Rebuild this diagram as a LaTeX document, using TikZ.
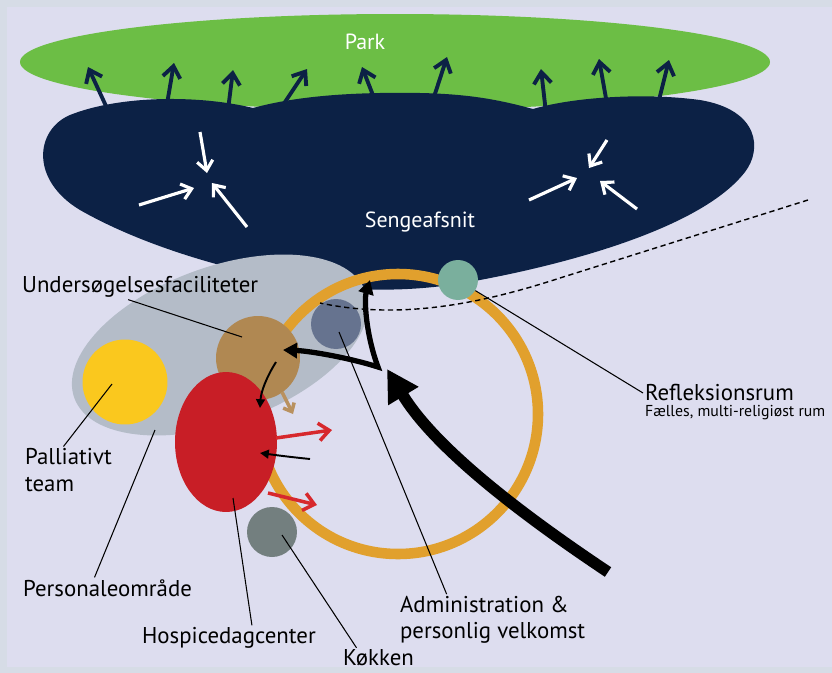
\documentclass[tikz,border=0pt]{standalone}
\usepackage{fontspec}
\setmainfont{PT Sans}
\usetikzlibrary{arrows.meta, positioning, calc, shapes.geometric}

\definecolor{bgframe}{RGB}{214,220,230}
\definecolor{bglav}{RGB}{221,221,239}
\definecolor{parkgreen}{RGB}{108,190,69}
\definecolor{navy}{RGB}{12,33,69}
\definecolor{staffgray}{RGB}{180,188,200}
\definecolor{ringgold}{RGB}{225,160,45}
\definecolor{palyellow}{RGB}{250,200,30}
\definecolor{exambrown}{RGB}{176,136,82}
\definecolor{dayred}{RGB}{200,30,38}
\definecolor{adminblue}{RGB}{102,115,143}
\definecolor{reflteal}{RGB}{122,175,157}
\definecolor{kitchengray}{RGB}{115,127,127}
\definecolor{flowred}{RGB}{215,40,45}
\definecolor{flowtan}{RGB}{185,145,95}

\begin{document}
\begin{tikzpicture}[x=0.02cm, y=-0.02cm,
        lbl/.style={font=\fontsize{13}{15}\selectfont, inner sep=1pt, anchor=west, align=left},
        sublbl/.style={font=\fontsize{9}{11}\selectfont, inner sep=1pt},
        zone/.style={font=\fontsize{12.5}{14}\selectfont, text=white, inner sep=0pt},
        room/.style={circle, inner sep=0pt},
        leader/.style={line width=0.6pt},
        outflow/.style={draw=navy, line width=2.2pt, -{Straight Barb[length=6.5pt, width=10pt]}},
        inflow/.style={draw=white, line width=1.8pt, -{Straight Barb[length=5.5pt, width=9pt]}},
        redflow/.style={draw=flowred, line width=2pt, -{Straight Barb[length=6pt, width=10pt]}},
        tanflow/.style={draw=flowtan, line width=2pt, -{Straight Barb[length=4pt, width=7pt]}},
        thinflow/.style={line width=1.1pt, -{Triangle[length=5pt, width=5pt]}}
    ]
    \useasboundingbox (0,0) rectangle (832,673);
    \fill[bgframe] (0,0) rectangle (832,673);
    \fill[bglav] (7,7) rectangle (832,667);

    % park
    \fill[parkgreen] (395,62) ellipse [x radius=375, y radius=48];
    \node[zone] (park) at (365,42) {Park};
    \foreach \bx/\by/\tx/\ty in {106/106/88/67, 167/104/174/63, 228/110/233/70,
            281/108/307/69, 376/103/362/67, 432/103/447/57, 546/113/541/69,
            607/104/599/59, 658/104/669/60}
        \draw[outflow] (\bx,\by) -- (\tx,\ty);

    % sengeafsnit
    \fill[navy] (253,108) .. controls (300,95) and (360,92) .. (420,93)
        .. controls (470,94) and (500,100) .. (533,109)
        .. controls (570,98) and (640,92) .. (700,100)
        .. controls (760,110) and (762,150) .. (745,172)
        .. controls (700,230) and (560,265) .. (480,280)
        .. controls (430,290) and (380,292) .. (330,287)
        .. controls (250,277) and (150,250) .. (80,210)
        .. controls (30,180) and (35,130) .. (70,115)
        .. controls (120,95) and (200,95) .. (253,108) -- cycle;
    \foreach \sx/\sy/\tx/\ty in {200/132/207/173, 139/205/194/188, 247/227/212/183,
            607/140/589/168, 529/200/577/178, 637/209/600/181}
        \draw[inflow] (\sx,\sy) -- (\tx,\ty);
    \node[zone] (ward) at (420,222) {Sengeafsnit};

    % personale
    \fill[staffgray, rotate around={20:(220,345)}] (220,345) ellipse [x radius=155, y radius=78];
    \coordinate (staffdot) at (155,430);

    % ring
    \draw[ringgold, line width=6pt] (398,414) circle [radius=140];

    % rooms
    \node[room, fill=palyellow, minimum size=1.7cm] (pall) at (125,382) {};
    \node[room, fill=exambrown, minimum size=1.68cm] (exam) at (258,358) {};
    \node[room, fill=adminblue, minimum size=1.0cm] (admin) at (336,324) {};
    \node[room, fill=reflteal, minimum size=0.8cm] (refl) at (458,280) {};
    \node[ellipse, fill=dayred, inner sep=0pt, minimum width=2.04cm, minimum height=2.8cm] (day) at (226,442) {};
    \node[room, fill=kitchengray, minimum size=1.0cm] (kitchen) at (272,532) {};

    % flows
    \coordinate (entry) at (608,572);
    \coordinate (split) at (378,367);
    \draw[tanflow] (282,392) -- (293,414);
    \draw[redflow] (276,438) -- (332,430);
    \draw[redflow] (268,493) -- (317,505);
    \draw[thinflow] (276,362) .. controls (266,378) and (261,392) .. (260,408);
    \draw[thinflow] (310,459) .. controls (290,457) and (275,455) .. (260,453);
    \draw[line width=6.5pt, -{Triangle[length=18pt, width=19pt]}]
        (entry) .. controls (500,500) and (430,440) .. (387,369);
    \draw[line width=3pt, {Triangle[length=8pt, width=8.5pt]}-{Triangle[length=8pt, width=8.5pt]}]
        (283,350) .. controls (310,351) and (350,358) .. (split)
        .. controls (366,335) and (364,300) .. (370,280);

    % boundary
    \draw[line width=0.8pt, dash pattern=on 3pt off 2pt]
        (808,200) -- (560,278) .. controls (480,304) and (400,320) .. (320,303);

    % labels
    \node[lbl] (lblexam) at (20,287) {Undersøgelsesfaciliteter};
    \node[lbl] (lblpall) at (23,470) {Palliativt\\team};
    \node[lbl] (lblstaff) at (21,588) {Personaleområde};
    \node[lbl] (lblday) at (140,638) {Hospicedagcenter};
    \node[lbl] (lblkitchen) at (341,658) {Køkken};
    \node[lbl] (lbladmin) at (398,620) {Administration \&\\personlig velkomst};
    \node[lbl] (lblrefl) at (643,393) {Refleksionsrum};
    \node[sublbl, below right=0pt and 0pt of lblrefl.south west] (lblreflsub) {Fælles, multi-religiøst rum};

    \draw[leader] ([xshift=-0.24cm]lblexam.south) -- ($(exam)+(-16,-21)$);
    \draw[leader] ([xshift=-0.1cm]lblpall.north) -- ($(pall)+(-13,2)$);
    \draw[leader] ([xshift=-0.26cm]lblstaff.north) -- (staffdot);
    \draw[leader] ([xshift=0.46cm]lblday.north) -- ($(day)+(7,56)$);
    \draw[leader] ([xshift=-0.44cm]lblkitchen.north) -- ($(kitchen)+(10,3)$);
    \draw[leader] ([xshift=-0.92cm]lbladmin.north) -- ($(admin)+(3,8)$);
    \draw[leader] (lblrefl.west) -- (refl);
\end{tikzpicture}
\end{document}
